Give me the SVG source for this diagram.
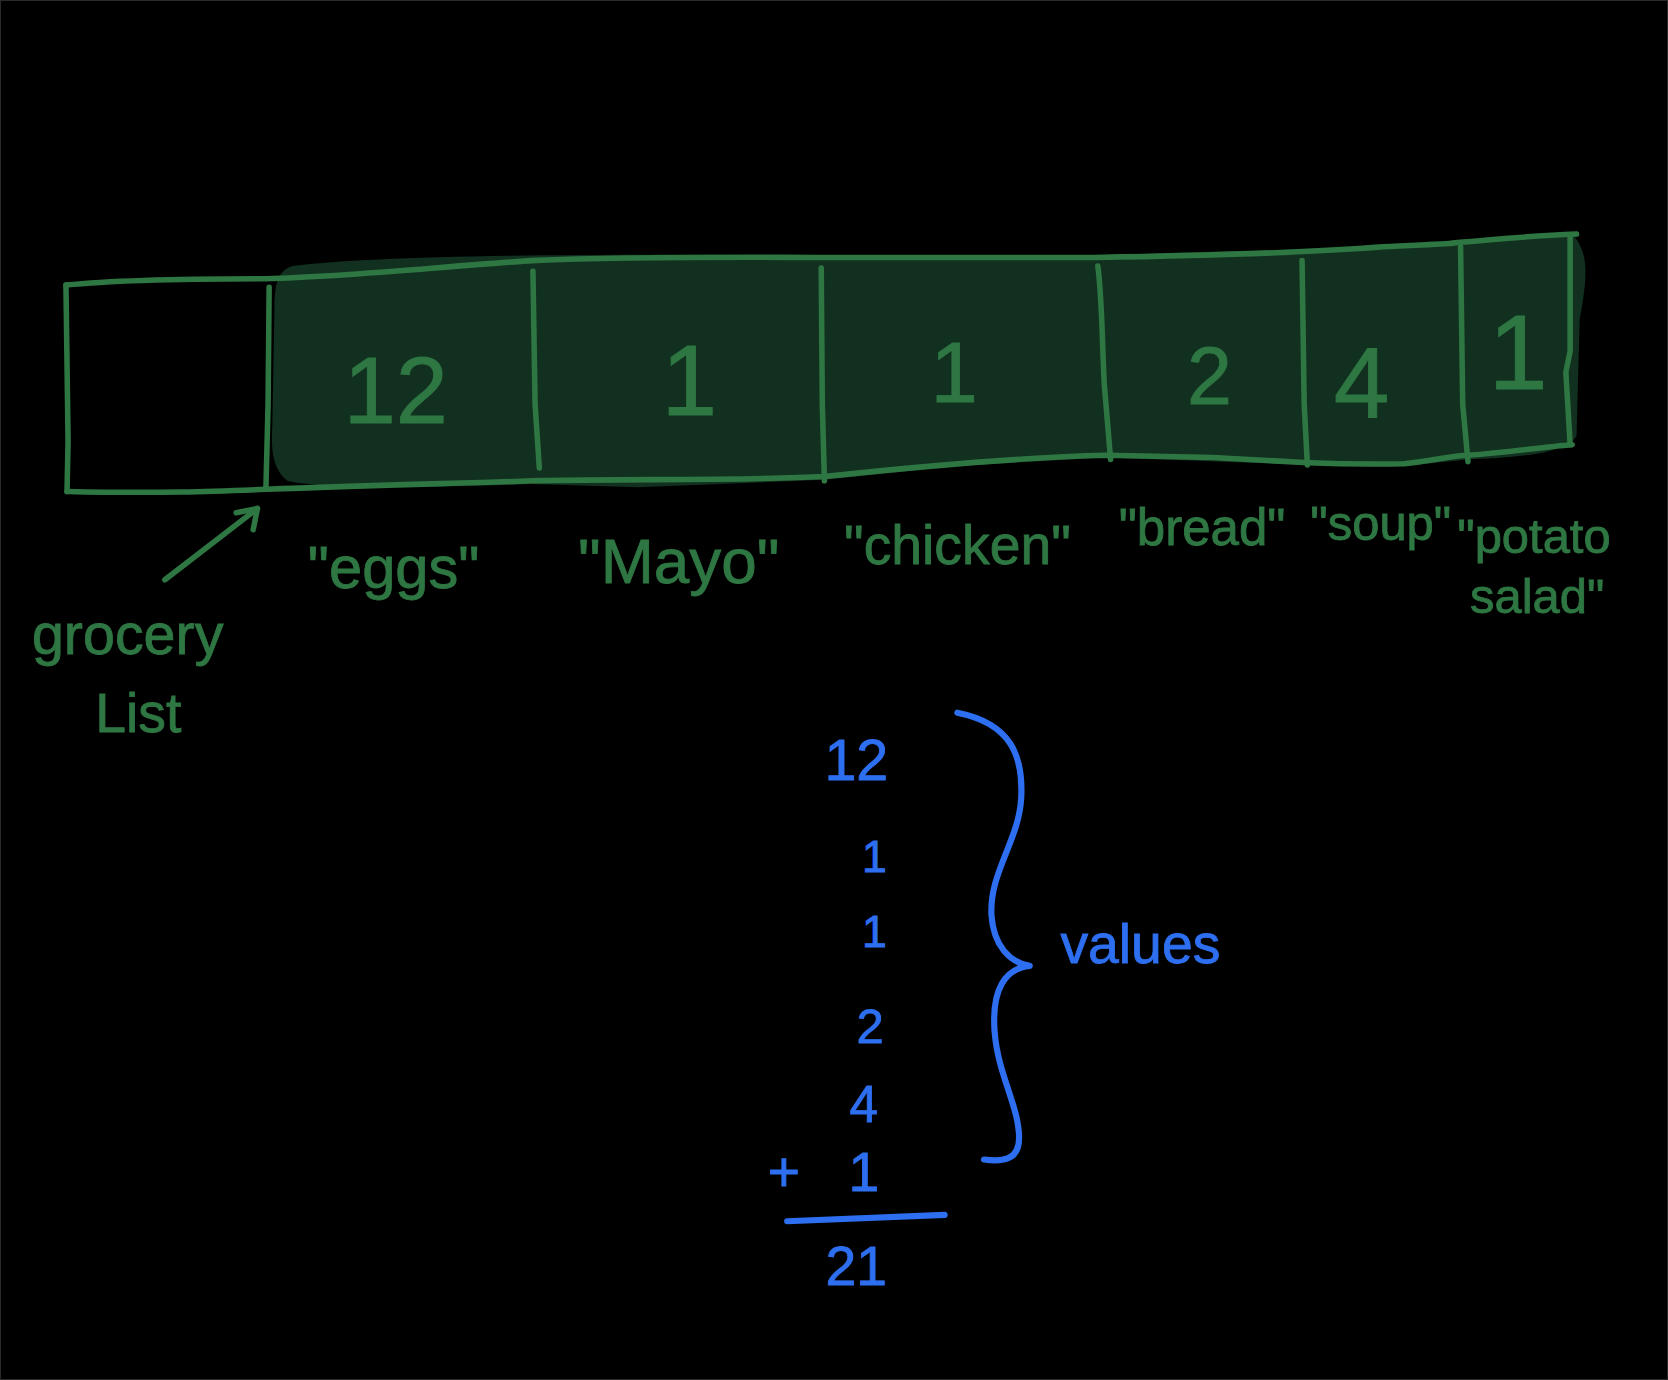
<svg xmlns="http://www.w3.org/2000/svg" width="1668" height="1380" viewBox="0 0 1668 1380">
<style>
.g{fill:none;stroke:#2e7743;stroke-width:5.2;stroke-linecap:round;stroke-linejoin:round}
.b{fill:none;stroke:#2d6ff0;stroke-width:5.8;stroke-linecap:round;stroke-linejoin:round}
.tg{fill:#2e7743;stroke:#2e7743;stroke-width:0.8;font-family:"Liberation Sans",Arial,sans-serif;text-anchor:middle}
.tb{fill:#2d6ff0;stroke:#2d6ff0;stroke-width:0.8;font-family:"Liberation Sans",Arial,sans-serif;text-anchor:middle}
</style>
<rect x="0" y="0" width="1668" height="1380" fill="#000"/>
<rect x="0.5" y="0.5" width="1667" height="1379" fill="none" stroke="#2a2a2a" stroke-width="1"/>
<g transform="scale(1.063776)">
<g id="list">
<path id="fill" d="M275,250 C350,241 500,238 770,240 L1030,240 L1300,232 L1370,228 L1480,222 C1494,240 1492,262 1485,300 L1482,410 C1470,428 1420,430 1380,432 L1320,438 L1230,437 L1040,430 L900,438 L775,451 L600,458 L500,455 C400,458 300,460 270,452 C255,440 255,420 256,400 L258,290 C258,265 262,254 275,250 Z" fill="#12301f"/>
<path class="g" d="M62,268 C120,262 200,262 250,262 C330,260 420,250 500,245 C600,241 700,242 770,242 L1030,242 C1150,240 1250,236 1300,232 C1330,230 1360,230 1370,228 C1400,226 1430,222 1482,220"/>
<path class="g" d="M62,268 L64,415 L63,462"/>
<path class="g" d="M63,462 C150,464 200,462 250,460 C350,456 450,454 500,452 C600,450 700,452 775,448 C850,440 950,430 1040,428 L1140,430 L1230,435 C1280,437 1300,436 1320,436 C1350,432 1370,428 1380,428 C1420,425 1450,420 1478,418"/>
<path class="g" d="M253,270 L252,380 L250,458"/>
<path class="g" d="M501,255 L503,380 L507,440"/>
<path class="g" d="M772,252 L773,380 L775,452"/>
<path class="g" d="M1032,250 C1036,280 1036,320 1038,360 L1044,432"/>
<path class="g" d="M1224,245 L1226,380 L1229,437"/>
<path class="g" d="M1373,232 L1375,380 L1380,434"/>
<path class="g" d="M1476,222 L1476,330 L1472,350 L1476,418"/>
</g>
<g id="cell-values">
<text class="tg" x="372" y="398" font-size="88">12</text>
<text class="tg" x="648" y="390" font-size="94">1</text>
<text class="tg" x="897" y="378" font-size="80">1</text>
<text class="tg" x="1137" y="380" font-size="76">2</text>
<text class="tg" x="1280" y="393" font-size="94">4</text>
<text class="tg" x="1427" y="366" font-size="100">1</text>
</g>
<g id="cell-labels">
<text class="tg" x="370" y="553" font-size="56">"eggs"</text>
<text class="tg" x="638" y="548" font-size="60">"Mayo"</text>
<text class="tg" x="900" y="530" font-size="52">"chicken"</text>
<text class="tg" x="1130" y="512" font-size="48">"bread"</text>
<text class="tg" x="1298" y="508" font-size="46">"soup"</text>
<text class="tg" x="1442" y="520" font-size="46">"potato</text>
<text class="tg" x="1445" y="576" font-size="46">salad"</text>
</g>
<g id="grocery-list-label">
<text class="tg" x="120" y="615" font-size="54">grocery</text>
<text class="tg" x="130" y="688" font-size="52">List</text>
</g>
<g id="connectors">
<path class="g" d="M155,545 L242,478"/>
<path class="g" d="M222,482 L242,478 L238,498"/>
</g>
<g id="sum">
<text class="tb" x="805" y="733" font-size="54">12</text>
<text class="tb" x="822" y="820" font-size="42">1</text>
<text class="tb" x="822" y="890" font-size="42">1</text>
<text class="tb" x="818" y="980" font-size="46">2</text>
<text class="tb" x="812" y="1055" font-size="48">4</text>
<text class="tb" x="737" y="1120" font-size="52">+</text>
<text class="tb" x="812" y="1120" font-size="52">1</text>
<path class="b" d="M740,1148 L888,1142"/>
<text class="tb" x="805" y="1208" font-size="52">21</text>
</g>
<g id="values-brace">
<path class="b" d="M900,670 C950,680 962,710 960,750 C958,790 930,820 932,860 C934,890 950,905 968,908 C945,910 932,930 935,970 C938,1010 958,1040 958,1070 C958,1092 940,1092 925,1090"/>
<text class="tb" x="1072" y="905" font-size="52">values</text>
</g>
</g>
</svg>
